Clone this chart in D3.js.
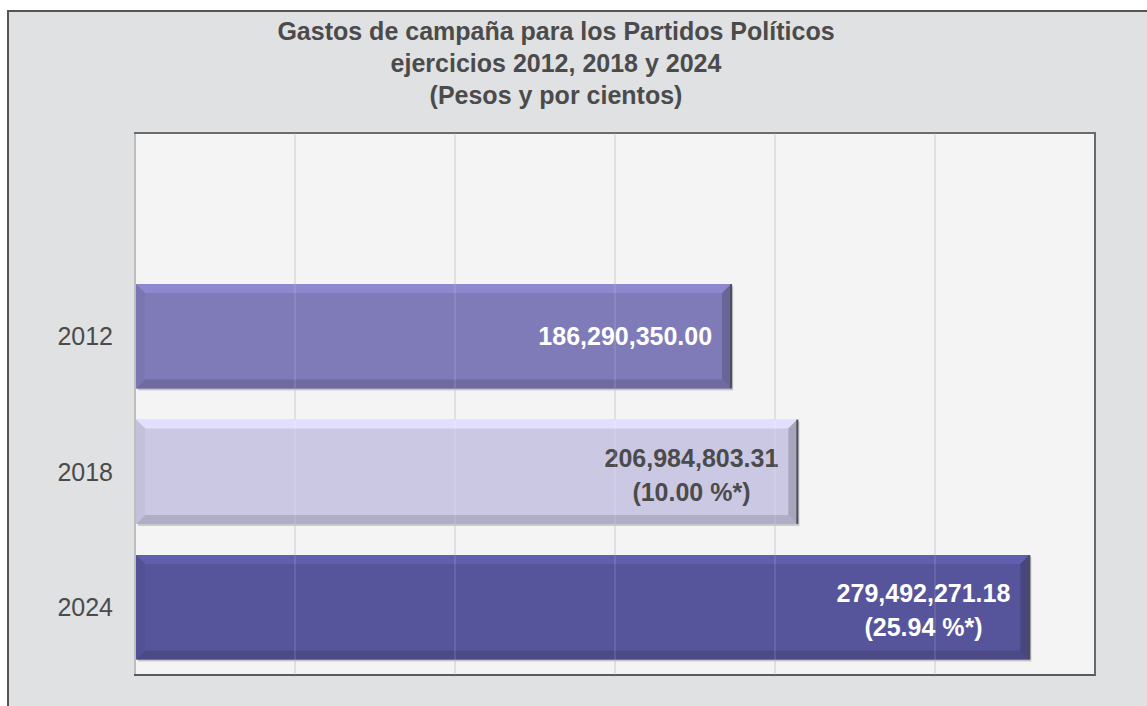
<!DOCTYPE html>
<html>
<head>
<meta charset="utf-8">
<script src="https://cdn.jsdelivr.net/npm/d3@7"></script>
<style>
  body { margin: 0; background: #ffffff; }
  svg { display: block; font-family: "Liberation Sans", Arial, sans-serif; }
</style>
</head>
<body>
<svg id="chart" width="1147" height="706"></svg>
<script>
// data
var years = ["", "2012", "2018", "2024"]   // first slot is empty in the original chart
var gastos = [null, 186290350.00, 206984803.31, 279492271.18]
var variacion = [null, null, "(10.00 %*)", "(25.94 %*)"]
var titulo = ["Gastos de campaña para los Partidos Políticos", "ejercicios 2012, 2018 y 2024", "(Pesos y por cientos)"]
var barColors = ["none", "#7f7bb9", "#cbc8e4", "#56559b"]
var labelColors = ["none", "#ffffff", "#4b4b4b", "#ffffff"]

var svg = d3.select("#chart")

// outer frame
svg.append("rect").attr("x", 8).attr("y", 11).attr("width", 1160).attr("height", 720)
  .style("fill", "#e0e1e3").style("stroke", "#555555").style("stroke-width", 2)

// title
svg.append("g").selectAll("text").data(titulo).enter().append("text")
  .attr("x", 556).attr("y", function(d, i){ return 40 + i * 32 })
  .attr("text-anchor", "middle")
  .style("font-size", "25px").style("font-weight", "bold").style("fill", "#4b4b4b")
  .text(function(d){ return d })

var pL = 135, pR = 1095, pT = 133, pB = 675

var x = d3.scaleLinear().domain([0, 300000000]).range([pL, pR])
var y = d3.scaleBand().domain(years).range([pT, pB]).paddingInner(0.23).paddingOuter(0.115)

// plot area
svg.append("rect").attr("x", pL).attr("y", pT).attr("width", pR - pL).attr("height", pB - pT)
  .style("fill", "#f3f4f3")

// gridlines
var ticks = x.ticks(6)
svg.append("g").selectAll("line").data(ticks.slice(1)).enter().append("line")
  .attr("x1", function(d){ return x(d) }).attr("x2", function(d){ return x(d) })
  .attr("y1", pT).attr("y2", pB)
  .style("stroke", "#dcdddd").style("stroke-width", 2)

// plot borders
svg.append("line").attr("x1", pL).attr("x2", pL).attr("y1", pT).attr("y2", pB)
  .style("stroke", "#bdbdbd").style("stroke-width", 2)
svg.append("line").attr("x1", pL - 1).attr("x2", pR + 1).attr("y1", pT).attr("y2", pT)
  .style("stroke", "#6b6b6b").style("stroke-width", 2)
svg.append("line").attr("x1", pR).attr("x2", pR).attr("y1", pT).attr("y2", pB)
  .style("stroke", "#5a5a5a").style("stroke-width", 2)
svg.append("line").attr("x1", pL - 1).attr("x2", pR + 1).attr("y1", pB).attr("y2", pB)
  .style("stroke", "#5a5a5a").style("stroke-width", 2)

// bars with a bevel look
var bars = svg.append("g").selectAll("g").data(years).enter()
  .filter(function(d, i){ return gastos[i] != null })
  .append("g")

var bev = 9
bars.each(function(d){
  var i = years.indexOf(d)
  var g = d3.select(this)
  var x0 = x(0) + 1, x1 = x(gastos[i]), y0 = y(d), y1 = y(d) + y.bandwidth()
  var c = d3.color(barColors[i])
  // shadow
  g.append("rect").attr("x", x0 + 2).attr("y", y0 + 2).attr("width", x1 - x0).attr("height", y1 - y0)
    .style("fill", "#a9a9ad").style("opacity", 0.6)
  g.append("rect").attr("x", x0).attr("y", y0).attr("width", x1 - x0).attr("height", y1 - y0)
    .style("fill", c)
  // top
  g.append("polygon").attr("points", [[x0, y0], [x1, y0], [x1 - bev, y0 + bev], [x0 + bev, y0 + bev]].join(" "))
    .style("fill", c.brighter(0.3))
  // bottom
  g.append("polygon").attr("points", [[x0, y1], [x1, y1], [x1 - bev, y1 - bev], [x0 + bev, y1 - bev]].join(" "))
    .style("fill", c.darker(0.4))
  // left
  g.append("polygon").attr("points", [[x0, y0], [x0 + bev, y0 + bev], [x0 + bev, y1 - bev], [x0, y1]].join(" "))
    .style("fill", c.darker(0.12))
  // right
  g.append("polygon").attr("points", [[x1, y0], [x1 - bev, y0 + bev], [x1 - bev, y1 - bev], [x1, y1]].join(" "))
    .style("fill", c.darker(0.55))
  g.append("line").attr("x1", x1).attr("x2", x1).attr("y1", y0).attr("y2", y1)
    .style("stroke", "#4e4e57").style("stroke-width", 2)
})

// faint gridlines over bars
svg.append("g").selectAll("line").data(ticks.slice(1)).enter().append("line")
  .attr("x1", function(d){ return x(d) }).attr("x2", function(d){ return x(d) })
  .attr("y1", pT).attr("y2", pB)
  .style("stroke", "#ffffff").style("stroke-width", 1).style("opacity", 0.2)

// category labels
svg.append("g").selectAll("text").data(years).enter().append("text")
  .attr("x", 113).attr("y", function(d){ return y(d) + y.bandwidth() / 2 + 9 })
  .attr("text-anchor", "end")
  .style("font-size", "25px").style("fill", "#4b4b4b")
  .text(function(d){ return d })

// value labels
var fmt = d3.format(",.2f")
bars.each(function(d){
  var i = years.indexOf(d)
  var g = d3.select(this)
  var xe = x(gastos[i]) - 19
  var cy = y(d) + y.bandwidth() / 2
  var t1 = g.append("text").attr("x", xe).attr("text-anchor", "end")
    .attr("y", variacion[i] ? cy - 5 : cy + 9)
    .style("font-size", "25px").style("font-weight", "bold").style("fill", labelColors[i])
    .text(fmt(gastos[i]))
  if (variacion[i]) {
    var w = t1.node().getComputedTextLength()
    g.append("text").attr("x", xe - w / 2).attr("y", cy + 29).attr("text-anchor", "middle")
      .style("font-size", "25px").style("font-weight", "bold").style("fill", labelColors[i])
      .text(variacion[i])
  }
})
</script>
</body>
</html>
